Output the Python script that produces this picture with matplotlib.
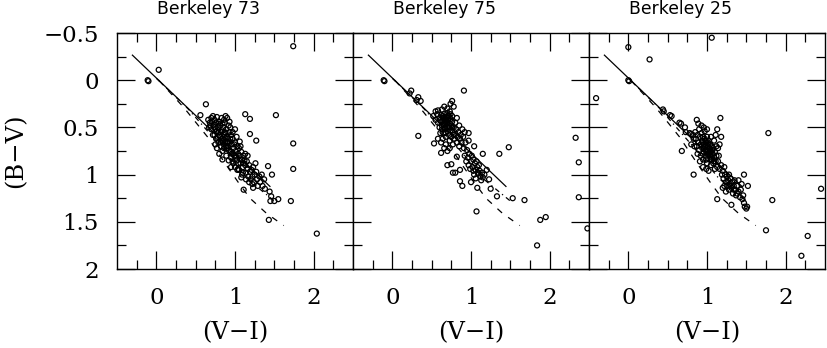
import matplotlib
matplotlib.use("Agg")
import matplotlib.pyplot as plt

# ---------------- data ----------------
titles = ["Berkeley 73", "Berkeley 75", "Berkeley 25"]

# reference sequences (V-I, B-V)
solid_vi = [-0.31, 1.45]
solid_bv = [-0.27, 1.13]
dashdot_vi = [0.0, 0.4, 0.8, 1.15, 1.5]
dashdot_bv = [-0.02, 0.30, 0.68, 1.04, 1.28]
dash_vi = [0.03, 0.35, 0.65, 0.89, 1.04, 1.19, 1.40, 1.62]
dash_bv = [0.0, 0.29, 0.60, 0.90, 1.08, 1.25, 1.41, 1.54]

# Berkeley 73
b73_vi = [1.74, -0.11, -0.10, 0.03, 0.63, 0.56, 1.13, 1.19, 1.52, 1.74, 1.19, 1.27, 1.74, 1.42, 1.47,
          1.71, 1.43, 1.44, 1.46, 1.45, 1.50, 1.55, 1.11, 2.04,
          0.66, 0.68, 0.70, 0.69, 0.67, 0.71, 0.72,
          0.73, 0.74, 0.75, 0.76, 0.77, 0.78, 0.79, 0.74, 0.76, 0.80, 0.78, 0.75,
          0.81, 0.82, 0.83, 0.84, 0.85, 0.86, 0.87, 0.88, 0.82, 0.84, 0.86, 0.81, 0.83, 0.85, 0.87, 0.88, 0.86, 0.80,
          0.89, 0.90, 0.91, 0.92, 0.93, 0.94, 0.95, 0.96, 0.89, 0.91, 0.93, 0.95, 0.90, 0.92, 0.94, 0.96, 0.90, 0.93, 0.95,
          0.97, 0.98, 0.99, 1.00, 1.01, 1.02, 1.03, 1.04, 0.98, 1.00, 1.02, 0.97, 1.03, 0.99, 1.01, 1.04, 1.00,
          1.05, 1.06, 1.07, 1.08, 1.09, 1.10, 1.11, 1.05, 1.07, 1.09, 1.11, 1.06, 1.12, 1.08,
          1.13, 1.14, 1.15, 1.16, 1.17, 1.18, 1.19, 1.14, 1.16, 1.20, 1.13,
          1.21, 1.22, 1.23, 1.24, 1.25, 1.27, 1.28, 1.26, 1.29, 1.22,
          1.31, 1.32, 1.34, 1.35, 1.37, 1.38, 0.79, 0.84, 0.72, 0.77,
          0.74, 0.77, 0.80, 0.83, 0.86, 0.89, 0.92, 0.95, 0.98, 1.01, 0.84, 0.88, 0.91, 0.94, 0.97,
          0.70, 0.79, 0.82, 0.87, 0.90, 1.04, 1.07, 1.10, 1.18, 1.23]
b73_bv = [-0.36, 0.0, 0.01, -0.11, 0.255, 0.37, 0.36, 0.41, 0.37, 0.67, 0.57, 0.64, 0.94, 0.91, 1.00,
          1.28, 1.48, 1.18, 1.23, 1.28, 1.28, 1.26, 1.16, 1.625,
          0.42, 0.45, 0.40, 0.48, 0.50, 0.44, 0.38,
          0.47, 0.42, 0.52, 0.45, 0.39, 0.50, 0.55, 0.58, 0.62, 0.44, 0.60, 0.68,
          0.48, 0.55, 0.40, 0.62, 0.50, 0.58, 0.45, 0.66, 0.70, 0.75, 0.72, 0.60, 0.53, 0.65, 0.55, 0.38, 0.42, 0.78,
          0.52, 0.60, 0.70, 0.48, 0.65, 0.75, 0.58, 0.68, 0.80, 0.62, 0.55, 0.82, 0.72, 0.85, 0.50, 0.78, 0.40, 0.44, 0.92,
          0.62, 0.72, 0.80, 0.66, 0.75, 0.85, 0.70, 0.78, 0.88, 0.92, 0.60, 0.55, 0.95, 0.68, 0.82, 0.88, 0.52,
          0.72, 0.80, 0.88, 0.76, 0.84, 0.92, 0.80, 0.95, 0.70, 1.00, 0.88, 0.65, 0.85, 1.03,
          0.90, 0.98, 0.86, 0.94, 1.02, 0.90, 0.97, 1.05, 0.80, 1.05, 0.78,
          0.95, 1.02, 0.92, 1.08, 1.00, 0.97, 1.05, 0.88, 1.12, 1.10,
          1.02, 1.08, 1.00, 1.12, 1.05, 1.15, 0.66, 0.84, 0.58, 0.72,
          0.50, 0.54, 0.58, 0.64, 0.68, 0.70, 0.74, 0.76, 0.78, 0.80, 0.46, 0.56, 0.66, 0.62, 0.86,
          0.52, 0.46, 0.66, 0.60, 0.66, 0.94, 0.84, 0.98, 1.08, 1.14]

# Berkeley 75
b75_vi = [-0.11, -0.10, 0.24, 0.22, 0.33, 0.36, 0.31, 0.91, 2.33, 2.37, 2.37, 2.48, 1.84, 1.88, 1.95,
          1.68, 1.53, 1.07, 0.33, 0.53, 0.62, 1.48, 1.36, 1.15, 0.70, 0.75, 0.77, 0.80, 0.86, 0.86, 0.89,
          1.00, 1.08, 1.23, 1.25, 1.33, 1.20, 1.09, 1.03, 0.82, 0.73, 0.58, 0.97, 0.97, 1.04, 0.78, 0.73,
          0.52, 0.55, 0.57, 0.58, 0.60, 0.60, 0.62, 0.62, 0.63, 0.64, 0.65, 0.65, 0.66, 0.67, 0.67, 0.68,
          0.69, 0.69, 0.70, 0.70, 0.71, 0.71, 0.72, 0.72, 0.73, 0.73, 0.74, 0.74, 0.75, 0.75, 0.76, 0.76,
          0.77, 0.77, 0.78, 0.79, 0.80, 0.80, 0.81, 0.82, 0.82, 0.83, 0.84, 0.85, 0.85, 0.86, 0.87, 0.88,
          0.89, 0.90, 0.91, 0.92, 0.93, 0.55, 0.58, 0.63, 0.66, 0.70, 0.74, 0.76, 0.61, 0.64, 0.68, 0.62,
          0.66, 0.70, 0.95, 0.96, 0.98, 1.00, 1.01, 1.02, 1.03, 1.05, 1.06, 1.07, 1.08, 1.09, 1.10, 1.11,
          1.12, 1.14, 1.15, 1.17, 0.97, 1.04, 1.06, 1.13, 0.94, 0.92, 0.99,
          0.61, 0.64, 0.66, 0.68, 0.70, 0.72, 0.74, 0.63, 0.67, 0.69, 0.71, 0.73, 0.65, 0.68, 0.76, 0.78]
b75_bv = [0.0, 0.01, 0.11, 0.14, 0.18, 0.22, 0.21, 0.11, 0.61, 0.87, 1.24, 1.57, 1.75, 1.48, 1.45,
          1.27, 1.25, 1.39, 0.59, 0.67, 0.77, 0.71, 0.78, 0.78, 0.90, 0.89, 0.98, 0.98, 0.95, 1.07, 1.12,
          1.08, 1.14, 1.05, 1.15, 1.23, 0.95, 0.99, 0.96, 0.81, 0.72, 0.62, 0.56, 0.64, 0.70, 0.28, 0.33,
          0.38, 0.42, 0.36, 0.45, 0.40, 0.50, 0.37, 0.44, 0.52, 0.40, 0.47, 0.56, 0.36, 0.43, 0.50, 0.60,
          0.39, 0.46, 0.54, 0.35, 0.42, 0.50, 0.58, 0.38, 0.46, 0.64, 0.41, 0.53, 0.48, 0.60, 0.38, 0.44,
          0.55, 0.68, 0.50, 0.62, 0.45, 0.57, 0.52, 0.66, 0.40, 0.60, 0.55, 0.70, 0.48, 0.62, 0.58, 0.66,
          0.52, 0.60, 0.72, 0.55, 0.66, 0.33, 0.32, 0.31, 0.28, 0.30, 0.25, 0.22, 0.56, 0.62, 0.68, 0.66,
          0.72, 0.75, 0.74, 0.82, 0.78, 0.86, 0.80, 0.92, 0.84, 0.88, 0.95, 0.86, 0.92, 0.98, 0.90, 0.96,
          1.02, 0.98, 1.03, 1.00, 0.90, 1.00, 1.04, 1.06, 0.86, 0.80, 0.94,
          0.42, 0.38, 0.45, 0.40, 0.44, 0.48, 0.36, 0.48, 0.52, 0.42, 0.38, 0.50, 0.40, 0.56, 0.50, 0.58]

# Berkeley 25
b25_vi = [1.06, 0.0, 0.27, -0.41, 0.0, 0.01, 1.78, 1.83, 2.45, 1.75, 2.28, 2.20, 0.68, 0.83, 1.13,
          1.31, 0.87, 1.17, 1.13, 1.47, 1.52, 0.44, 0.45, 0.53, 0.55, 0.65, 0.67, 0.72, 0.78, 0.80, 0.73,
          0.85, 0.86, 0.87, 0.88, 0.89, 0.90, 0.90, 0.91, 0.92, 0.92, 0.93, 0.94, 0.94, 0.95, 0.95, 0.96,
          0.96, 0.97, 0.97, 0.98, 0.98, 0.99, 1.00, 1.00, 1.00, 1.01, 1.02, 1.02, 1.03, 1.03, 1.04, 1.04,
          1.05, 1.05, 1.06, 1.06, 1.07, 1.08, 1.08, 1.09, 1.10, 1.10, 1.11, 1.12, 1.12, 1.13, 1.14, 1.15,
          0.93, 0.96, 1.00, 1.05, 1.09, 1.14, 0.88, 0.91, 0.95, 0.99, 1.02, 0.83, 0.80, 0.84, 0.82, 0.89,
          1.16, 1.18, 1.11,
          1.16, 1.18, 1.19, 1.20, 1.21, 1.22, 1.23, 1.24, 1.25, 1.26, 1.27, 1.28, 1.28, 1.29, 1.30, 1.31,
          1.32, 1.33, 1.34, 1.35, 1.36, 1.37, 1.38, 1.40, 1.42, 1.43, 1.45, 1.46, 1.47, 1.48, 1.50, 1.51,
          1.40, 1.44, 1.20, 1.24, 1.22,
          0.94, 0.96, 0.98, 1.00, 1.02, 1.04, 1.06, 0.97, 0.99, 1.01, 1.03, 1.05, 0.95, 0.99, 1.07, 1.09,
          1.26, 1.30, 1.34, 1.38]
b25_bv = [-0.45, -0.35, -0.22, 0.19, 0.0, 0.01, 0.56, 1.27, 1.15, 1.59, 1.65, 1.86, 0.75, 1.0, 1.26,
          1.32, 0.42, 0.40, 0.52, 1.0, 1.12, 0.31, 0.33, 0.37, 0.38, 0.45, 0.46, 0.50, 0.56, 0.57, 0.55,
          0.55, 0.62, 0.70, 0.58, 0.66, 0.52, 0.74, 0.60, 0.68, 0.80, 0.56, 0.64, 0.72, 0.60, 0.84, 0.68,
          0.76, 0.54, 0.62, 0.70, 0.80, 0.66, 0.74, 0.60, 0.88, 0.70, 0.78, 0.64, 0.84, 0.72, 0.68, 0.80,
          0.76, 0.90, 0.70, 0.84, 0.78, 0.88, 0.72, 0.82, 0.76, 0.94, 0.86, 0.80, 0.70, 0.92, 0.86, 0.80,
          0.48, 0.50, 0.52, 0.60, 0.64, 0.72, 0.78, 0.86, 0.92, 0.94, 0.96, 0.62, 0.68, 0.70, 0.58, 0.46,
          0.68, 0.60, 0.58,
          0.94, 0.90, 1.00, 0.96, 1.04, 0.92, 1.00, 1.08, 1.02, 1.12, 1.06, 1.00, 1.16, 1.10, 1.04, 1.14,
          1.08, 1.20, 1.12, 1.06, 1.16, 1.22, 1.12, 1.18, 1.24, 1.16, 1.26, 1.22, 1.30, 1.34, 1.36, 1.34,
          1.06, 1.10, 1.14, 1.18, 1.12,
          0.66, 0.72, 0.64, 0.78, 0.68, 0.74, 0.82, 0.70, 0.76, 0.66, 0.76, 0.84, 0.78, 0.84, 0.74, 0.86,
          1.08, 1.12, 1.16, 1.20]

panels_vi = [b73_vi, b75_vi, b25_vi]
panels_bv = [b73_bv, b75_bv, b25_bv]

xticks_major = [0, 1, 2]
xtick_labels = ["0", "1", "2"]
yticks_major = [-0.5, 0, 0.5, 1, 1.5, 2]
ytick_labels = ["\u22120.5", "0", "0.5", "1", "1.5", "2"]

# ---------------- figure ----------------
W, H = 827, 348
fig = plt.figure(figsize=(W / 100, H / 100), dpi=100)

left_px = [117, 353, 589]
top_px, size_px = 33, 236
serif = ["DejaVu Serif"]

for i in range(3):
    ax = fig.add_axes([left_px[i] / W, (H - top_px - size_px) / H, size_px / W, size_px / H])
    ax.plot(solid_vi, solid_bv, color="black", lw=0.9, solid_capstyle="butt")
    ax.plot(dashdot_vi, dashdot_bv, color="black", lw=0.9, dashes=(4, 3, 1, 3))
    ax.plot(dash_vi, dash_bv, color="black", lw=0.9, dashes=(5, 6))
    ax.scatter(panels_vi[i], panels_bv[i], s=13, facecolors="none", edgecolors="black",
               linewidths=0.9, clip_on=False, zorder=3)
    ax.set_xlim(-0.5, 2.5)
    ax.set_ylim(2, -0.5)
    ax.set_xticks(xticks_major)
    ax.set_xticks([-0.25, 0.25, 0.5, 0.75, 1.25, 1.5, 1.75, 2.25], minor=True)
    ax.set_xticklabels(xtick_labels, fontfamily=serif, fontsize=16.5)
    ax.set_yticks(yticks_major)
    ax.set_yticks([-0.25, 0.25, 0.75, 1.25, 1.75], minor=True)
    if i == 0:
        ax.set_yticklabels(ytick_labels, fontfamily=serif, fontsize=16.5)
    else:
        ax.set_yticklabels([])
    ax.tick_params(which="both", direction="in", top=True, right=True, width=0.9, pad=13)
    ax.tick_params(which="major", length=13)
    ax.tick_params(which="minor", length=6.5)
    for sp in ax.spines.values():
        sp.set_linewidth(1.0)
    ax.text(0.386, 1.08, titles[i], transform=ax.transAxes, ha="center", va="baseline",
            fontsize=12.4, fontfamily="DejaVu Sans")
    ax.text(0.5, -0.272, "(V\u2212I)", transform=ax.transAxes, ha="center", va="center",
            fontsize=17.5, fontfamily=serif)

fig.text(16 / W, 1 - 151 / H, "(B\u2212V)", rotation=90, ha="center", va="center",
         fontsize=17.5, fontfamily=serif)

fig.savefig("out.png", dpi=100)
